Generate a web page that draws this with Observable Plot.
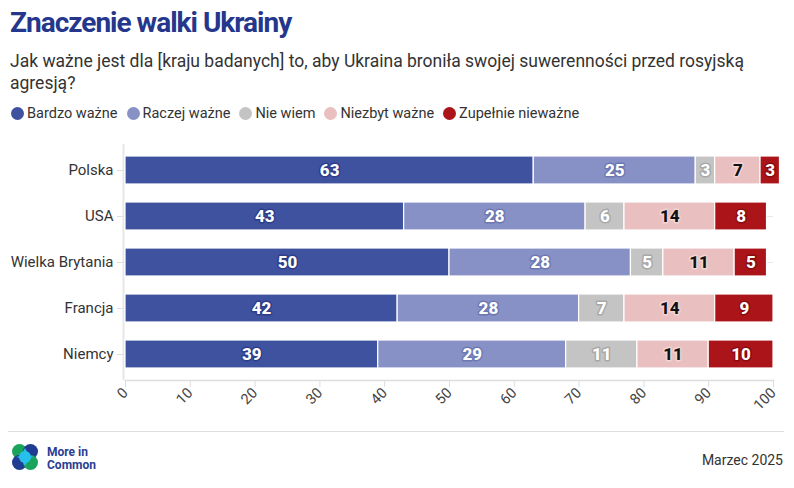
<!DOCTYPE html>
<html><head><meta charset="utf-8">
<script src="https://cdn.jsdelivr.net/npm/d3@7"></script>
<script src="https://cdn.jsdelivr.net/npm/@observablehq/plot@0.6"></script>
<style>
  html,body{margin:0;padding:0;background:#fff;}
  body{width:794px;height:488px;overflow:hidden;font-family:Roboto,"Noto Sans",sans-serif;position:relative;}
  #title{position:absolute;left:10px;top:6px;font-size:28px;font-weight:700;color:#25378c;letter-spacing:-1px;}
  #sub{position:absolute;left:10px;top:50px;width:770px;font-size:17.5px;font-weight:400;color:#333;line-height:22px;}
  #legend{position:absolute;left:11px;top:105px;font-size:14.5px;color:#333;display:flex;}
  #legend .it{display:flex;align-items:center;margin-right:9px;}
  #legend .dot{width:13px;height:13px;border-radius:50%;margin-right:3px;}
  #chart{position:absolute;left:0;top:134px;}
  #rule{position:absolute;left:8px;top:431px;width:776px;height:0;border-top:1.5px solid #ddd;}
  #date{position:absolute;right:11px;top:452px;font-size:14px;color:#333;}
  #logo{position:absolute;left:10px;top:442px;}
  svg g[aria-label="x-axis tick"] path{stroke:#ddd;}
  svg g[aria-label="y-axis tick"] path{stroke:#ddd;}
</style>
</head><body>
<div id="title">Znaczenie walki Ukrainy</div>
<div id="sub">Jak ważne jest dla [kraju badanych] to, aby Ukraina broniła swojej suwerenności przed rosyjską agresją?</div>
<div id="legend"></div>
<div id="chart"></div>
<div id="rule"></div>
<div id="logo"><svg width="100" height="32" viewBox="0 0 100 32">
  <circle cx="9.5" cy="9.5" r="7.5" fill="#1aa35b"/>
  <circle cx="20.5" cy="9.5" r="7.5" fill="#1f3c92"/>
  <circle cx="9.5" cy="20.5" r="7.5" fill="#1f3c92"/>
  <circle cx="20.5" cy="20.5" r="7.5" fill="#1aa35b"/>
  <path d="M15,6 Q19,15 24,15 Q19,15 15,24 Q11,15 6,15 Q11,15 15,6Z" fill="#27c0ec"/>
  <circle cx="15" cy="15" r="6" fill="#27c0ec"/>
  <text x="37" y="14" font-family="Roboto" font-weight="700" font-size="12" fill="#2a3d93">More in</text>
  <text x="37" y="27" font-family="Roboto" font-weight="700" font-size="12" fill="#2a3d93">Common</text>
</svg></div>
<div id="date">Marzec 2025</div>
<script>
const countries = ["Polska", "USA", "Wielka Brytania", "Francja", "Niemcy"];
const categories = ["Bardzo ważne", "Raczej ważne", "Nie wiem", "Niezbyt ważne", "Zupełnie nieważne"];
const colors = ["#3f52a0", "#8891c5", "#c4c4c4", "#e9bfc0", "#ab1519"];
const labelFill = ["#fff", "#fff", "#fff", "#111", "#fff"];
const labelHalo = ["#2f3d88", "#6d78b3", "#a8a8a8", "#f2d5d6", "#8a0b0f"];
const bardzo = [63, 43, 50, 42, 39];
const raczej = [25, 28, 28, 28, 29];
const nieWiem = [3, 6, 5, 7, 11];
const niezbyt = [7, 14, 11, 14, 11];
const zupelnie = [3, 8, 5, 9, 10];
const xTicks = [0, 10, 20, 30, 40, 50, 60, 70, 80, 90, 100];

const series = [bardzo, raczej, nieWiem, niezbyt, zupelnie];
const data = [];
countries.forEach((c, i) => categories.forEach((k, j) => data.push({country: c, cat: k, value: series[j][i]})));

const leg = document.getElementById("legend");
categories.forEach((k, j) => {
  const it = document.createElement("div"); it.className = "it";
  it.innerHTML = `<span class="dot" style="background:${colors[j]}"></span><span>${k}</span>`;
  leg.appendChild(it);
});

const stackOpts = {x: "value", y: "country", z: "cat", order: categories};
const chart = Plot.plot({
  width: 794,
  height: 281,
  marginTop: 10,
  marginBottom: 35,
  marginLeft: 125,
  marginRight: 21,
  style: {fontFamily: "Roboto, sans-serif", fontSize: "14px", color: "#333"},
  x: {domain: [0, 100], ticks: xTicks},
  y: {domain: countries, paddingInner: 0.4, paddingOuter: 0.213, label: null},
  color: {domain: categories, range: colors},
  marks: [
    Plot.gridY({stroke: "#e6e6e6", strokeOpacity: 1}),
    Plot.ruleX([0], {stroke: "#e6e6e6", strokeWidth: 2, dx: -2}),
    Plot.barX(data, Plot.stackX({...stackOpts, fill: "cat", stroke: "#fff", strokeWidth: 1.2})),
    Plot.text(data, Plot.stackX({
      ...stackOpts,
      text: d => String(d.value),
      fill: d => labelFill[categories.indexOf(d.cat)],
      stroke: d => labelHalo[categories.indexOf(d.cat)],
      strokeWidth: 3,
      fontSize: 17,
      fontWeight: 800
    })),
    Plot.axisY({tickSize: 6, tickPadding: 4, label: null, fontSize: 15, dx: -2}),
    Plot.frame({anchor: "bottom", stroke: "#ddd", strokeWidth: 1.5}),
    Plot.axisX({ticks: xTicks, tickSize: 7, tickRotate: -45, tickPadding: 3, label: null, fontSize: 14.5, fill: "#444"})
  ]
});
document.getElementById("chart").appendChild(chart);
</script>
</body></html>
